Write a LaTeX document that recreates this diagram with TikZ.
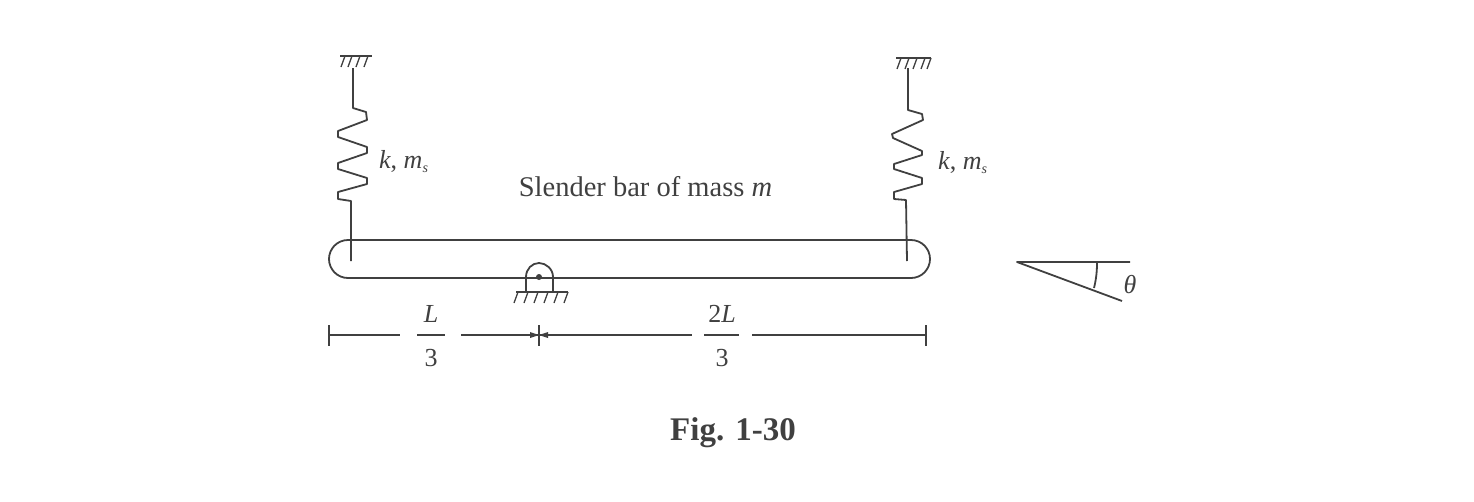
\documentclass[tikz,border=0pt]{standalone}
\usepackage{fontspec}
\setmainfont{Liberation Serif}
\usetikzlibrary{calc}
\definecolor{ink}{gray}{0.25}
\tikzset{
  x=1pt,y=-1pt,
  wire/.style={draw=ink,line width=1.8pt,line join=round},
  hatch/.style={draw=ink,line width=1.3pt},
  lbl/.style={inner sep=0pt,text=ink,font=\fontsize{26}{30}\selectfont},
  sidelbl/.style={inner sep=0pt,text=ink,font=\fontsize{26}{30}\selectfont,anchor=west},
}
\newcommand{\subs}{\raisebox{-4pt}{\fontsize{14}{14}\selectfont\textit{s}}}
\begin{document}
\begin{tikzpicture}
\useasboundingbox (0,0) rectangle (1474,501);
% bar
\draw[wire] (348,240) -- (911,240) .. controls (922,240) and (930,249) .. (930,259)
  .. controls (930,269) and (922,278) .. (911,278) -- (348,278)
  .. controls (337,278) and (329,269) .. (329,259)
  .. controls (329,249) and (337,240) .. (348,240);
% left spring
\coordinate (gl) at (353,68);
\coordinate (el) at (351,261);
\draw[wire] (gl) -- (353,108) -- (366,112) -- (367,120) -- (338,131) -- (338,137) -- (367,147) -- (367,153) -- (338,163) -- (338,169) -- (367,178) -- (367,184) -- (338,192) -- (338,199) -- (351,201) -- (el);
\draw[hatch] (340,56) -- (372,56);
\foreach \x in {345,352,360,368} \draw[hatch] (\x,56) -- (\x-4,67);
% right spring
\coordinate (gr) at (908,68);
\coordinate (er) at (907,261);
\draw[wire] (gr) -- (908,110) -- (922,114) -- (923,120) -- (892,134) -- (893,138) -- (922,151) -- (922,155) -- (894,164) -- (894,169) -- (922,178) -- (922,184) -- (894,192) -- (894,199) -- (906,200) -- (er);
\draw[hatch] (896,58) -- (931,58);
\foreach \x in {901,909,917,925,931} \draw[hatch] (\x,58) -- (\x-4,69);
% pivot
\coordinate (piv) at (539,277);
\draw[wire] (526,292) -- (526,277) .. controls (526,269) and (532,263) .. (539,263)
  .. controls (546,263) and (553,269) .. (553,277) -- (553,292);
\fill[ink] (piv) circle (3);
\draw[wire] (516,292) -- (568,292);
\foreach \x in {518,528,538,548,558,568} \draw[hatch] (\x,292) -- (\x-4,303);
% dimension
\coordinate (d0) at (329,335);
\coordinate (d1) at (539,335);
\coordinate (d2) at (926,335);
\draw[wire] (329,325) -- (329,346);
\draw[wire] (539,325) -- (539,346);
\draw[wire] (926,325) -- (926,346);
\draw[wire] (d0) -- (400,335);
\draw[wire] (461,335) -- (d1);
\draw[wire] (d1) -- (692,335);
\draw[wire] (752,335) -- (d2);
\fill[ink] (539,335) -- (530,332) -- (530,338) -- cycle;
\fill[ink] (539,335) -- (548,332) -- (548,338) -- cycle;
% fractions
\node[lbl] (fa) at (431,314) {\textit{L}};
\draw[wire] (417,335) -- (445,335);
\node[lbl] (fb) at (431,358) {3};
\node[lbl] (fc) at (722,314) {2\textit{L}};
\draw[wire] (704,335) -- (739,335);
\node[lbl] (fd) at (722,358) {3};
% labels
\node[sidelbl] (kl) at (379,162) {\textit{k}, \textit{m}\subs};
\node[sidelbl] (kr) at (938,163) {\textit{k}, \textit{m}\subs};
\node[inner sep=0pt,text=ink,font=\fontsize{28.5}{30}\selectfont] (title) at (645.5,187) {Slender bar of mass \textit{m}};
\node[inner sep=0pt,text=ink,font=\fontsize{33}{36}\selectfont\bfseries] (fig) at (733,433) {Fig. 1-30};
% angle
\coordinate (a0) at (1017,262);
\coordinate (a1) at (1130,262);
\coordinate (a2) at (1122,301);
\draw[wire] (a1) -- (a0) -- (a2);
\draw[wire] (1097,263) .. controls (1097,272) and (1096,280) .. (1094,288);
\node[lbl] (th) at (1130,285) {\textit{θ}};
\end{tikzpicture}
\end{document}
